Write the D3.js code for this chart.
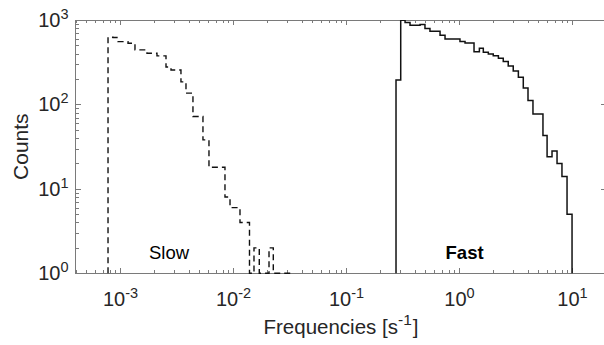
<!DOCTYPE html>
<html>
<head>
<meta charset="utf-8">
<script src="https://cdn.jsdelivr.net/npm/d3@7"></script>
<style>
  body { margin: 0; background: #fff; }
  svg { display: block; font-family: "Liberation Sans", Arial, sans-serif; }
</style>
</head>
<body>
<div id="chart"></div>
<script>
// slow population (dashed): bin edges in s^-1 and counts per bin
const slowEdges = [7.76e-4, 8.59e-4, 9.51e-4, 1.166e-3, 1.344e-3, 1.716e-3, 2.104e-3, 2.529e-3,
  2.80e-3, 3.43e-3, 3.80e-3, 4.38e-3, 5.37e-3, 6.07e-3, 8.41e-3, 9.32e-3, 1.142e-2, 1.386e-2,
  1.519e-2, 1.692e-2, 2.063e-2, 2.251e-2, 3.363e-2];
const slowCounts = [625, 620, 555, 531, 443, 404, 376, 277, 256, 185, 136, 72, 38, 18, 8, 6, 4,
  0, 2, 0, 2, 1];

// fast population (solid)
const fastEdges = [0.2744, 0.302, 0.330, 0.365, 0.448, 0.495, 0.548, 0.673, 0.745, 1.01, 1.12,
  1.345, 1.50, 1.625, 1.80, 1.99, 2.21, 2.44, 2.70, 2.99, 3.32, 3.67, 4.04, 4.47, 5.48, 5.96,
  6.59, 7.30, 8.07, 8.95, 9.91];
const fastCounts = [195, 990, 937, 867, 887, 793, 736, 661, 597, 555, 535, 422, 463, 415, 397,
  378, 353, 322, 286, 249, 210, 157, 111, 77, 43, 24, 28, 20, 14, 5];

const xTickExps = [-3, -2, -1, 0, 1];
const yTickExps = [0, 1, 2, 3];
const annotations = [
  { text: 'Slow', at: 2.69e-3, bold: false },
  { text: 'Fast', at: 1.11, bold: true }
];

const W = 604, H = 345;
const m = { l: 75.5, t: 20, r: -2.5, b: 71.7 };
const innerW = W - m.l - m.r;
const innerH = H - m.t - m.b;
const ink = '#262626';

const svg = d3.select('#chart').append('svg').attr('width', W).attr('height', H);
const g = svg.append('g').attr('transform', `translate(${m.l},${m.t})`);

const x = d3.scaleLog().domain([4e-4, 20]).range([0, innerW]);
const y = d3.scaleLog().domain([1, 1000]).range([innerH, 0]);

// ticks (inward, box on all four sides)
const majX = xTickExps.map(e => 10 ** e);
const majY = yTickExps.map(e => 10 ** e);
const minX = [], minY = [];
for (let e = -4; e <= 1; e++) for (let k = 2; k <= 9; k++) {
  const v = k * 10 ** e;
  if (v >= x.domain()[0] && v <= x.domain()[1]) minX.push(v);
}
for (let e = 0; e <= 2; e++) for (let k = 2; k <= 9; k++) minY.push(k * 10 ** e);

function tickGroup(axis, tr) {
  const a = g.append('g').attr('transform', tr).call(axis);
  a.select('.domain').remove();
  a.selectAll('line').attr('stroke', '#7a7a7a').attr('shape-rendering', 'crispEdges');
  a.selectAll('text').remove();
}
tickGroup(d3.axisBottom(x).tickValues(majX).tickSize(-5.3), `translate(0,${innerH})`);
tickGroup(d3.axisBottom(x).tickValues(minX).tickSize(-3), `translate(0,${innerH})`);
tickGroup(d3.axisTop(x).tickValues(majX).tickSize(-5.3), 'translate(0,0)');
tickGroup(d3.axisTop(x).tickValues(minX).tickSize(-3), 'translate(0,0)');
tickGroup(d3.axisLeft(y).tickValues(majY).tickSize(-5.3), 'translate(0,0)');
tickGroup(d3.axisLeft(y).tickValues(minY).tickSize(-3), 'translate(0,0)');
tickGroup(d3.axisRight(y).tickValues(majY).tickSize(-5.3), `translate(${innerW},0)`);
tickGroup(d3.axisRight(y).tickValues(minY).tickSize(-3), `translate(${innerW},0)`);

g.append('rect')
  .attr('x', 0).attr('y', 0).attr('width', innerW).attr('height', innerH)
  .attr('fill', 'none').attr('stroke', '#7a7a7a').attr('shape-rendering', 'crispEdges');

// stairs outline of a histogram
function stairs(edges, counts) {
  const pts = [[edges[0], 1]];
  counts.forEach((c, i) => {
    const v = Math.max(c, 1);
    pts.push([edges[i], v], [edges[i + 1], v]);
  });
  pts.push([edges[edges.length - 1], 1]);
  return d3.line().x(d => x(d[0])).y(d => y(d[1]))(pts);
}

svg.append('clipPath').attr('id', 'plot')
  .append('rect').attr('width', innerW).attr('height', innerH + 1);
const marks = g.append('g').attr('clip-path', 'url(#plot)');

marks.append('path')
  .attr('d', stairs(slowEdges, slowCounts))
  .attr('fill', 'none').attr('stroke', '#111').attr('stroke-width', 1.4)
  .attr('stroke-dasharray', '6,4');

marks.append('path')
  .attr('d', stairs(fastEdges, fastCounts))
  .attr('fill', 'none').attr('stroke', '#111').attr('stroke-width', 1.5);

// tick labels, 10 with superscript exponent
g.selectAll('.xl').data(xTickExps).enter().append('text')
  .attr('x', d => x(10 ** d)).attr('y', innerH + 33)
  .attr('text-anchor', 'middle').attr('fill', ink).attr('font-size', 20)
  .each(function (d) {
    const t = d3.select(this);
    t.append('tspan').text('10');
    t.append('tspan').attr('dy', -8).attr('font-size', 14.5).text(d);
  });

g.selectAll('.yl').data(yTickExps).enter().append('text')
  .attr('x', -7).attr('y', d => y(10 ** d) + 7)
  .attr('text-anchor', 'end').attr('fill', ink).attr('font-size', 20)
  .each(function (d) {
    const t = d3.select(this);
    t.append('tspan').text('10');
    t.append('tspan').attr('dy', -8).attr('font-size', 14.5).text(d);
  });

// axis titles
const xt = g.append('text')
  .attr('x', innerW / 2).attr('y', innerH + 61)
  .attr('text-anchor', 'middle').attr('fill', ink).attr('font-size', 20.5);
xt.append('tspan').text('Frequencies [s');
xt.append('tspan').attr('dy', -9).attr('font-size', 15.5).text('-1');
xt.append('tspan').attr('dy', 9).attr('dx', 1).text(']');

g.append('text')
  .attr('transform', `translate(${-48},${innerH / 2}) rotate(-90)`)
  .attr('text-anchor', 'middle').attr('fill', ink).attr('font-size', 21)
  .text('Counts');

// population labels
g.selectAll('.ann').data(annotations).enter().append('text')
  .attr('x', d => x(d.at)).attr('y', innerH - 14.5)
  .attr('text-anchor', 'middle').attr('fill', '#000').attr('font-size', 18.5)
  .attr('font-weight', d => d.bold ? 'bold' : 'normal')
  .text(d => d.text);
</script>
</body>
</html>
